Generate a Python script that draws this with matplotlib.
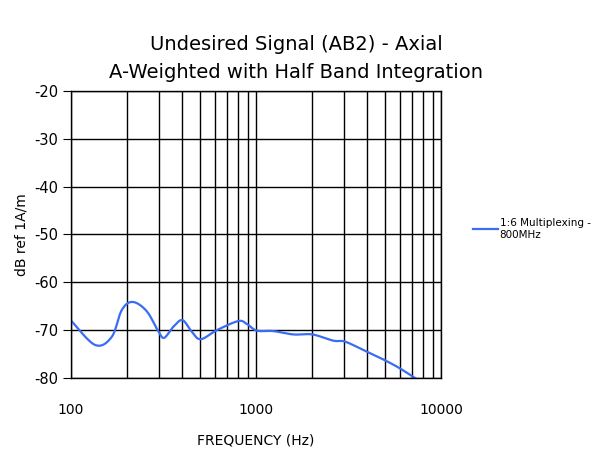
import numpy as np
import matplotlib.pyplot as plt
from matplotlib.ticker import FixedLocator, NullFormatter

plt.rcParams['axes.unicode_minus'] = False

# Valores
freq = [100, 135, 166, 188, 215, 256, 297, 319, 357, 400, 449, 502, 614, 802,
        891, 1010, 1241, 1593, 2017, 2620, 3030, 3966, 4977, 6000, 7230]
db = [-68.0, -73.1, -71.4, -65.8, -64.1, -66.0, -70.3, -71.6, -69.3, -67.9,
      -70.3, -71.9, -70.0, -68.1, -68.7, -70.1, -70.2, -70.9, -70.9, -72.2,
      -72.4, -74.5, -76.3, -78.0, -80.0]
y_ticks = [-80, -70, -60, -50, -40, -30, -20]
x_labels = ['100', '1000', '10000']
serie = '1:6 Multiplexing -\n800MHz'

fig = plt.figure(figsize=(5.92, 4.5), dpi=100)
ax = fig.add_axes([0.12, 0.16, 0.625, 0.638])

# Curva suavizada en escala log
lf = np.log10(freq)
xs = np.linspace(lf[0], lf[-1], 400)
t = np.arange(len(lf))
ts = np.interp(xs, lf, t)
# interpolacion tipo Catmull-Rom
def catmull(vals, ts):
    v = np.array(vals)
    out = []
    for tt in ts:
        i = min(int(tt), len(v) - 2)
        u = tt - i
        p0 = v[max(i - 1, 0)]
        p1 = v[i]
        p2 = v[i + 1]
        p3 = v[min(i + 2, len(v) - 1)]
        out.append(0.5 * ((2 * p1) + (-p0 + p2) * u + (2 * p0 - 5 * p1 + 4 * p2 - p3) * u ** 2
                          + (-p0 + 3 * p1 - 3 * p2 + p3) * u ** 3))
    return np.array(out)
ax.plot(10 ** catmull(lf, ts), catmull(db, ts), color='#3a6cf4', lw=1.6,
        label=serie, clip_on=True)

ax.set_xscale('log')
ax.set_xlim(100, 10000)
ax.set_ylim(-80, -20)
ax.set_yticks(y_ticks)
ax.set_xticks([100, 1000, 10000])
ax.set_xticklabels(x_labels)
minors = [m * d for d in (100, 1000) for m in range(2, 10)]
ax.xaxis.set_minor_locator(FixedLocator(minors))
ax.xaxis.set_minor_formatter(NullFormatter())
ax.grid(True, which='both', color='black', lw=1)
ax.tick_params(axis='x', which='both', length=0, pad=18, labelsize=10)
ax.tick_params(axis='y', length=6, pad=3, labelsize=10.5)
for s in ax.spines.values():
    s.set_linewidth(1)

ax.set_xlabel('FREQUENCY (Hz)', fontsize=10, labelpad=12)
ax.set_ylabel('dB ref 1A/m', fontsize=10, labelpad=4)
fig.text(0.5, 0.9, 'Undesired Signal (AB2) - Axial', ha='center', va='center', fontsize=14)
fig.text(0.5, 0.838, 'A-Weighted with Half Band Integration', ha='center', va='center', fontsize=14)

ax.legend(loc='center left', bbox_to_anchor=(1.06, 0.52), frameon=False,
          fontsize=7.5, handlelength=2.4, handletextpad=0.2)

fig.savefig('out.png', dpi=100)
